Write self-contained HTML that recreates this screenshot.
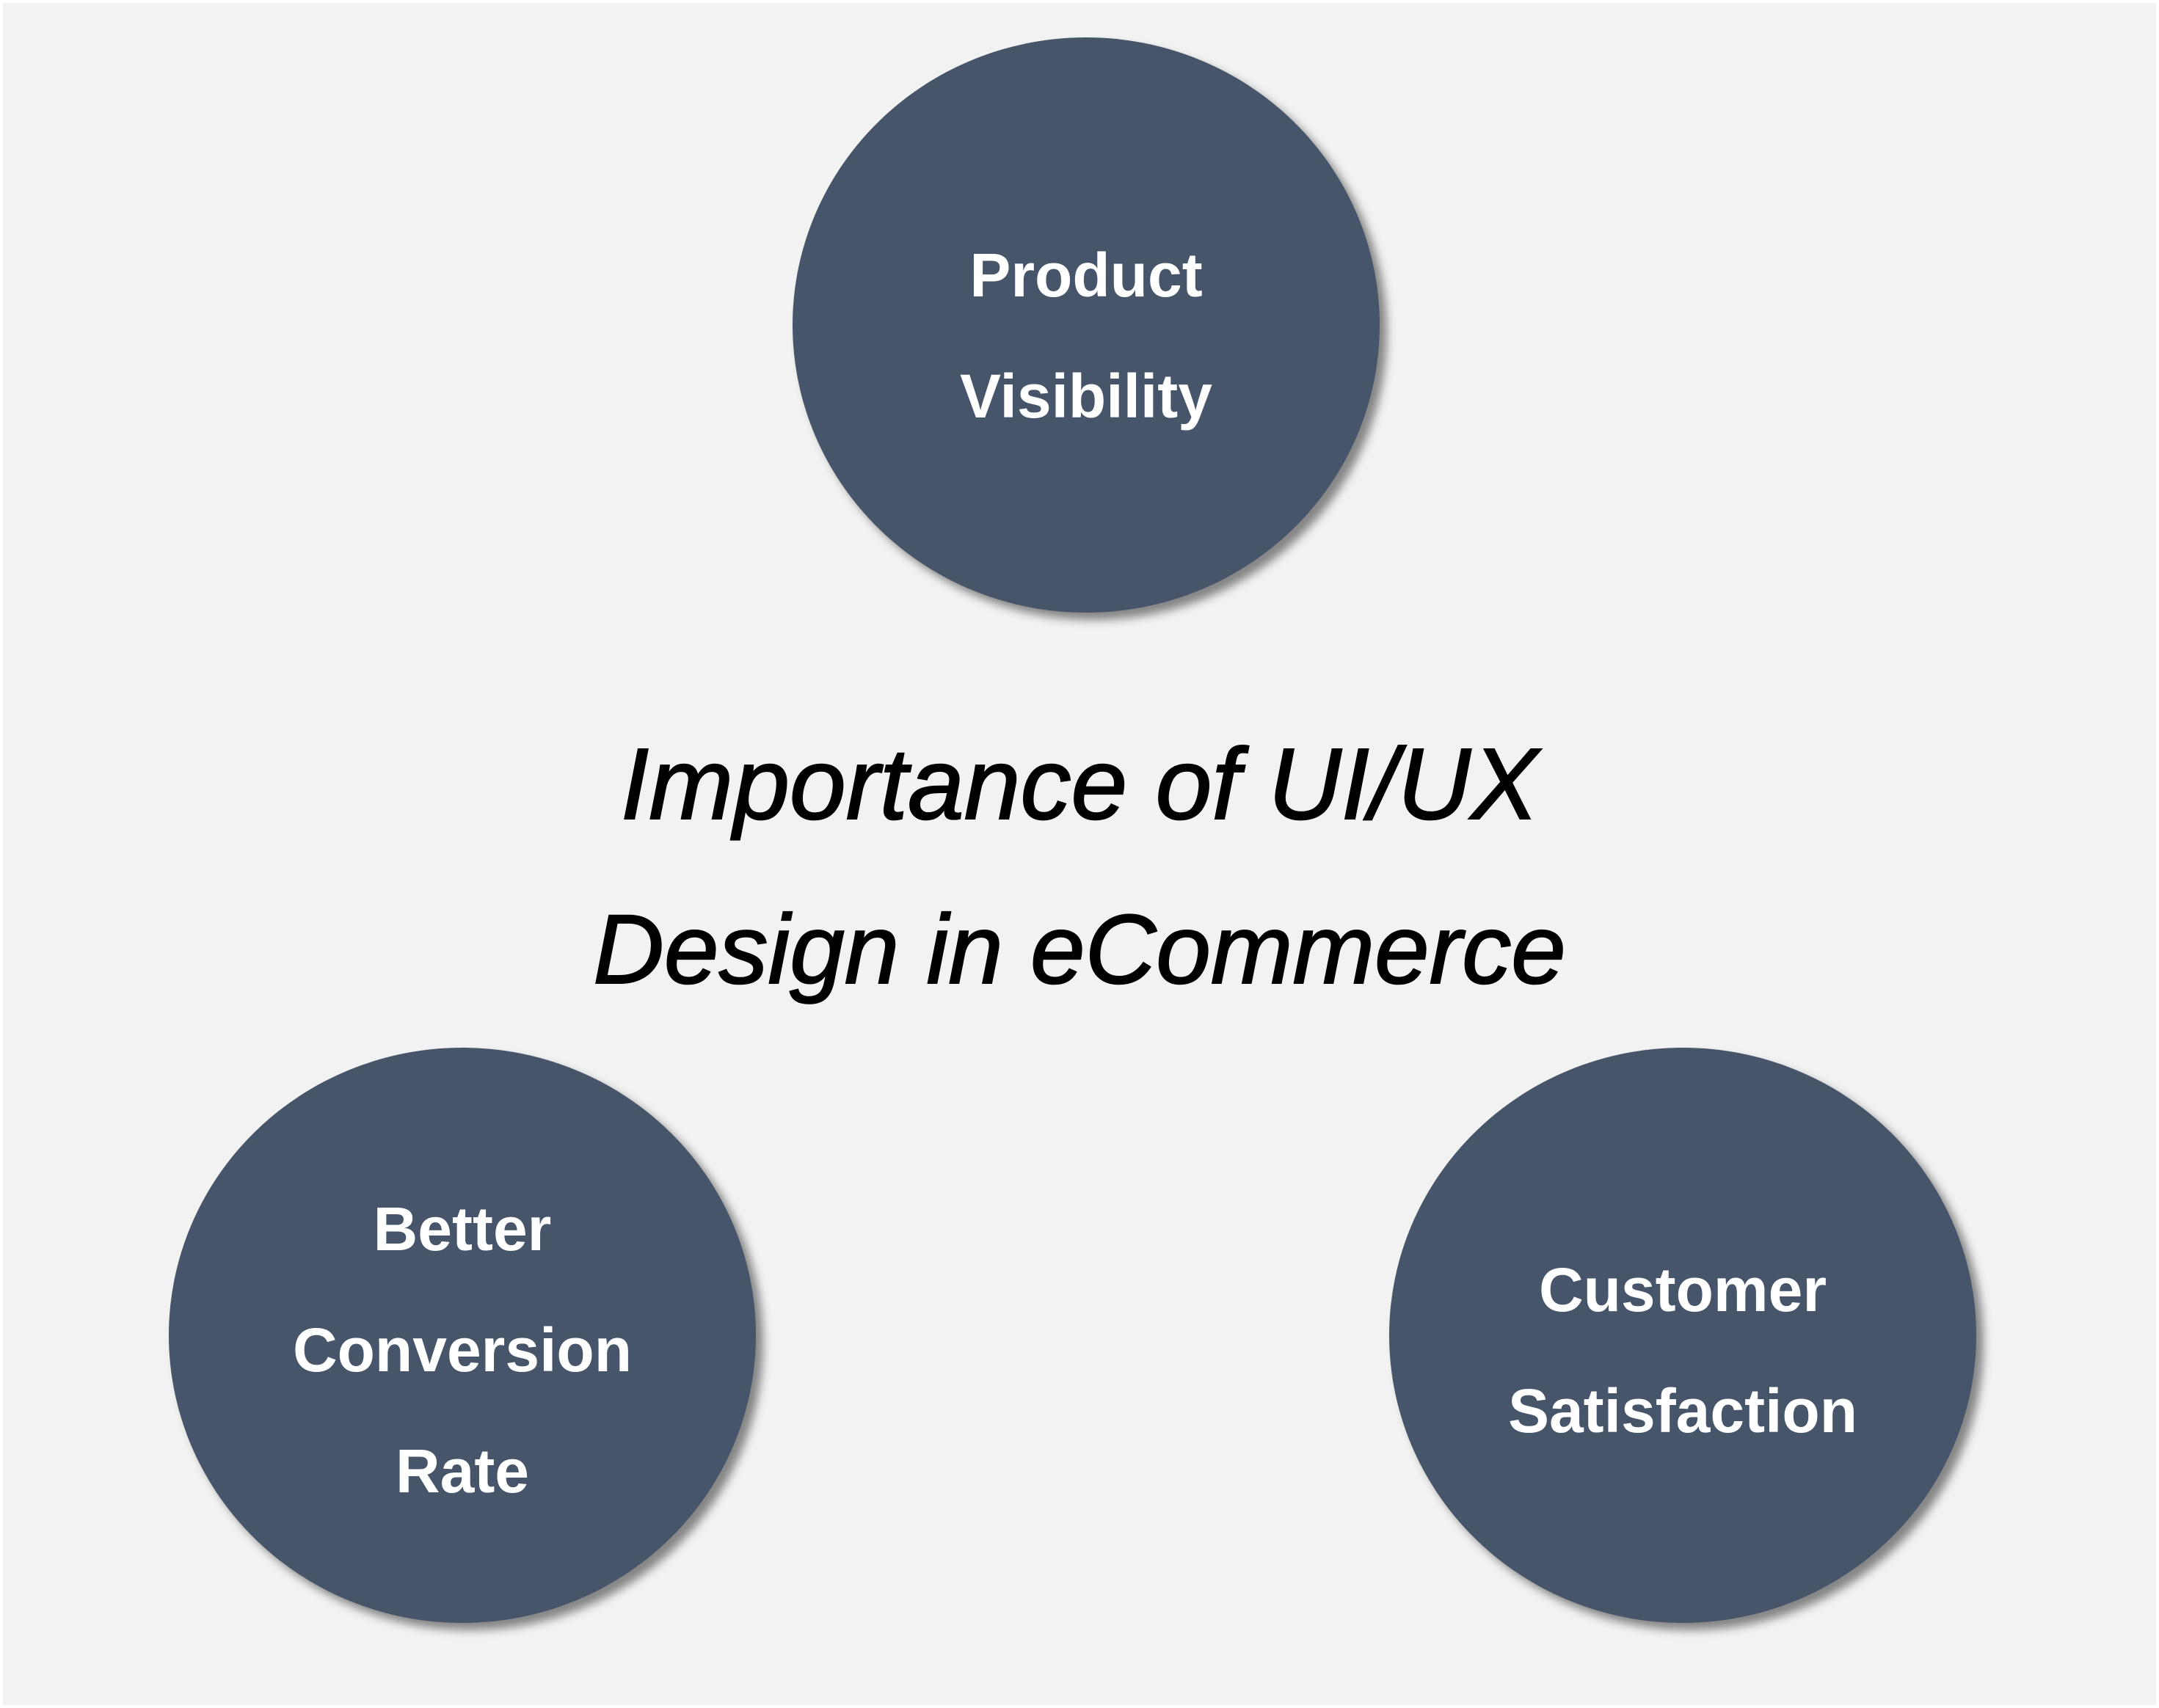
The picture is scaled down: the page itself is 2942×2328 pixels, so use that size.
<!DOCTYPE html>
<html><head><meta charset="utf-8"><style>
html,body{margin:0;padding:0;}
body{width:2942px;height:2328px;background:#fff;position:relative;overflow:hidden;font-family:"Liberation Sans",sans-serif;}
.bg{position:absolute;left:4px;top:4px;width:2934px;height:2320px;background:#f2f2f2;}
.c{position:absolute;width:800px;height:784px;border-radius:50%;background:#465569;box-shadow:10px 10px 12px rgba(0,0,0,0.45);}
.t{position:absolute;color:#fff;font-size:84px;font-weight:bold;text-align:center;width:800px;line-height:1;}
.title{position:absolute;left:0;width:2942px;text-align:center;font-style:italic;font-size:134px;color:#000;line-height:1;-webkit-text-stroke:2px #000;}
</style></head><body>
<div class="bg"></div>
<div class="c" style="left:1080px;top:51px"></div>
<div class="c" style="left:230px;top:1428px"></div>
<div class="c" style="left:1893px;top:1428px"></div>
<div class="t" style="left:1080px;top:333px">Product</div>
<div class="t" style="left:1080px;top:498px">Visibility</div>
<div class="t" style="left:230px;top:1633px">Better</div>
<div class="t" style="left:230px;top:1798px">Conversion</div>
<div class="t" style="left:230px;top:1963px">Rate</div>
<div class="t" style="left:1893px;top:1716px">Customer</div>
<div class="t" style="left:1893px;top:1881px">Satisfaction</div>
<div class="title" style="top:1000px;font-size:138px">Importance of UI/UX</div>
<div class="title" style="top:1228px">Design in eCommerce</div>
</body></html>
